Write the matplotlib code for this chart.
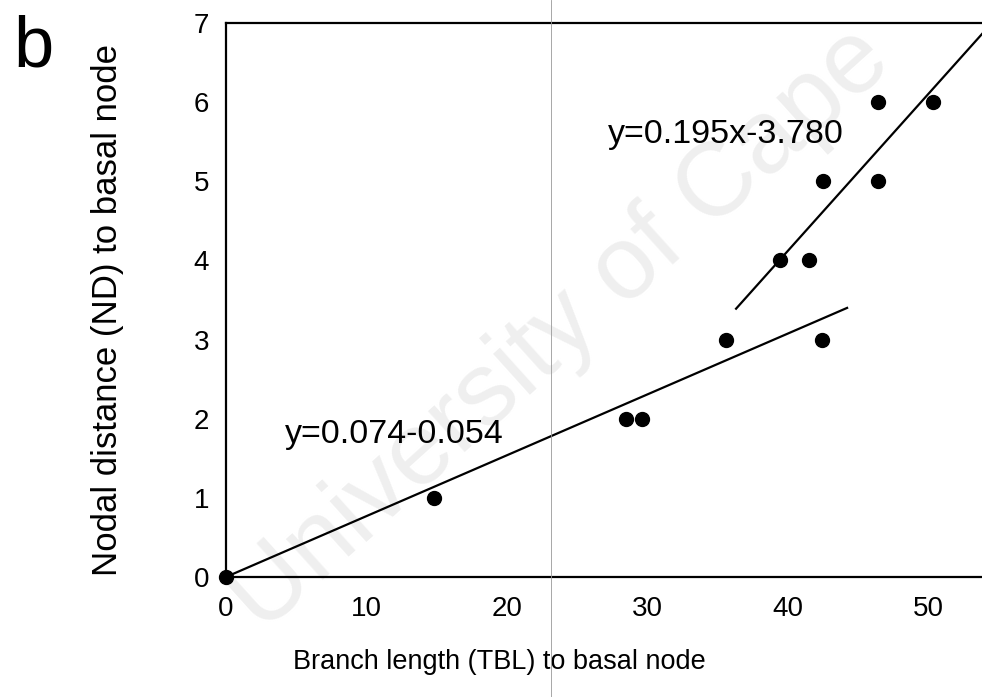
import numpy as np
import matplotlib.pyplot as plt

plt.rcParams['font.family'] = ['Liberation Sans', 'DejaVu Sans']

# data
tbl = [0, 14.8, 28.5, 29.6, 35.6, 39.4, 41.5, 42.4, 42.5, 46.4, 46.4, 50.3]
nd = [0, 1, 2, 2, 3, 4, 4, 3, 5, 5, 6, 6]

fit1_x = [0, 44.2]
fit1_y = [0, 3.4]
fit2_x = [36.3, 54.5]
fit2_y = [3.39, 7.0]

xticks = [0, 10, 20, 30, 40, 50]
yticks = [0, 1, 2, 3, 4, 5, 6, 7]

fig = plt.figure(figsize=(9.82, 6.97), dpi=100)
ax = fig.add_axes([0.2301, 0.1722, 0.7699, 0.7948])

# faint watermark of the scan
fig.text(245 / 982, 1 - 615 / 697, 'University of Cape', fontsize=75, color='#efefef',
         rotation=42, rotation_mode='anchor', ha='left', va='center', zorder=-1)

ax.patch.set_alpha(0)
ax.plot(fit1_x, fit1_y, color='black', lw=1.6, zorder=2)
ax.plot(fit2_x, fit2_y, color='black', lw=1.6, zorder=2)
ax.plot(tbl, nd, 'o', color='black', ms=10, zorder=3, clip_on=False)

fig.text(608 / 982, 1 - 135 / 697, 'y=0.195x-3.780', fontsize=24.5, ha='left', va='center')
fig.text(285 / 982, 1 - 435 / 697, 'y=0.074-0.054', fontsize=24.5, ha='left', va='center')

ax.set_xlim(0, 53.8)
ax.set_ylim(0, 7)
ax.set_xticks(xticks)
ax.set_yticks(yticks)
ax.tick_params(length=0, colors='black')
ax.tick_params(axis='y', pad=12, labelsize=20)
ax.tick_params(axis='x', pad=14, labelsize=20)
ax.spines['right'].set_visible(False)
for s in ['left', 'top', 'bottom']:
    ax.spines[s].set_linewidth(1.6)

ax.set_xlabel('Branch length (TBL) to basal node', fontsize=19.5)
ax.xaxis.set_label_coords((499 - 226) / 756, -(662 - 577) / 554)
ax.xaxis.label.set_va('center')
ax.set_ylabel('Nodal distance (ND) to basal node', fontsize=25)
ax.yaxis.set_label_coords(-(226 - 108) / 756, (577 - 310) / 554)
ax.yaxis.label.set_va('center')

fig.text(33 / 982, 1 - 48 / 697, 'b', fontsize=52, ha='center', va='center')

# thin vertical scan line
fig.add_artist(plt.Line2D([551 / 982, 551 / 982], [0, 1], color='#999999', lw=0.6))

fig.savefig('out.png', dpi=100)
